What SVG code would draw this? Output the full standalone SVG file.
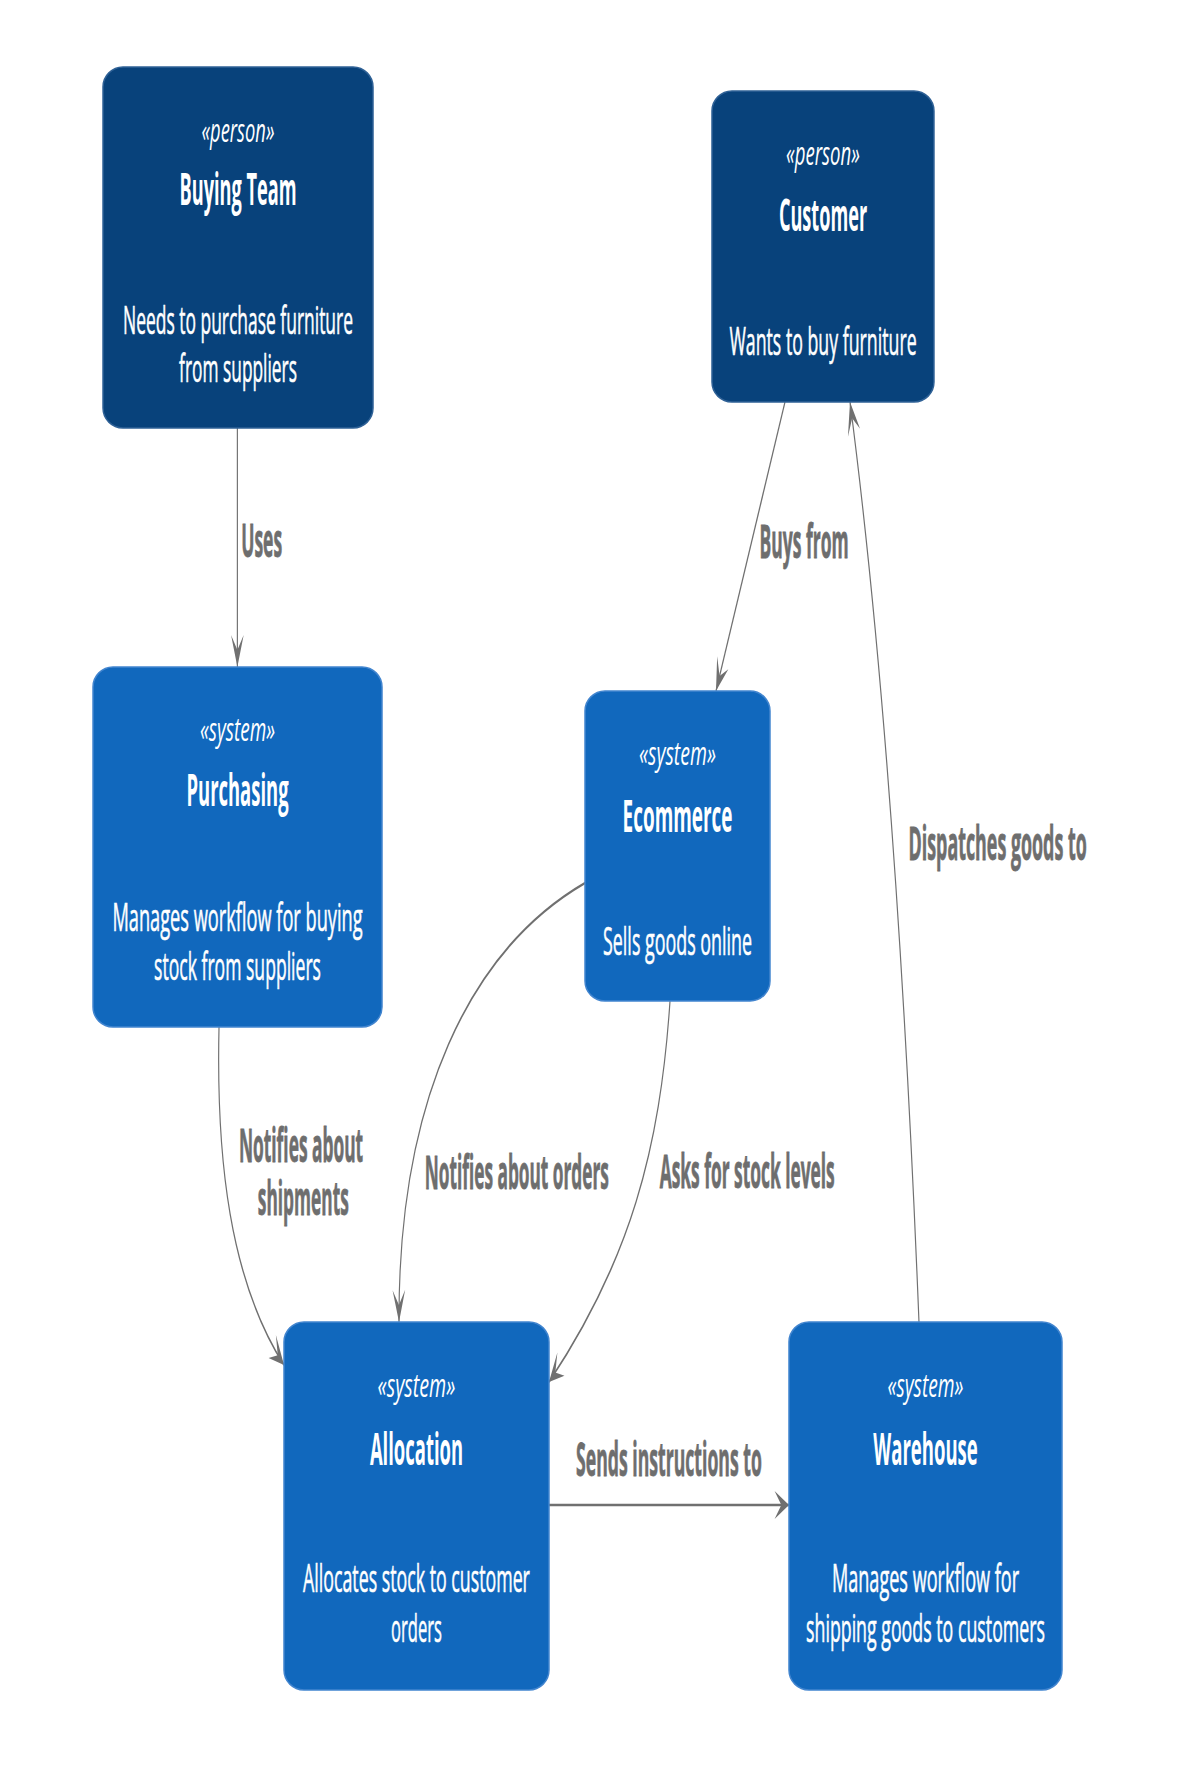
<svg xmlns="http://www.w3.org/2000/svg" width="1192" height="1788" viewBox="0 0 1192 1788">
<defs>
<marker id="arrow" viewBox="-33 -15 34 30" refX="0" refY="0" markerWidth="34" markerHeight="30" markerUnits="userSpaceOnUse" orient="auto">
<path d="M0,0 L-32,-14 L-17,0 L-32,14 Z" fill="#707070"/>
</marker>
</defs>
<style>
.box{stroke-width:1.5;vector-effect:non-scaling-stroke}
.person .box{fill:#08427B;stroke:#2f6196}
.system .box{fill:#1168BD;stroke:#4285cf}
text{font-family:"Open Sans","Liberation Sans",sans-serif}
.st{font-size:33px;font-style:italic;fill:#ffffff;text-anchor:middle}
.nm{font-size:45px;font-weight:bold;fill:#ffffff;text-anchor:middle}
.ds{font-size:39px;fill:#ffffff;text-anchor:middle;stroke:#ffffff;stroke-width:0.6}
.lb{font-size:47px;font-weight:bold;fill:#6e6e6e;stroke:#6e6e6e;stroke-width:0.8}
.edge{fill:none;stroke:#707070;stroke-width:2.6;marker-end:url(#arrow)}
</style>
<rect x="0" y="0" width="1192" height="1788" fill="#ffffff"/>
<g transform="scale(0.45,1)">
<g id="connectors">
<path class="edge" d="M527.5,428 L527.5,667"/>
<path class="edge" d="M1744.4,402 L1591.1,691"/>
<path class="edge" d="M2042.2,1322 Q1992.2,760 1888.9,402"/>
<path class="edge" d="M486.7,1027 C480,1160 511.1,1280 631.1,1365"/>
<path class="edge" d="M1300,883 C1044.4,950 884.4,1100 886.7,1322"/>
<path class="edge" d="M1488.9,1001 C1466.7,1150 1400,1260 1220,1382"/>
<path class="edge" d="M1220,1505 L1753.3,1505"/>
<text class="lb" x="536" y="557" textLength="91" lengthAdjust="spacingAndGlyphs">Uses</text>
<text class="lb" x="1688" y="558" textLength="198" lengthAdjust="spacingAndGlyphs">Buys from</text>
<text class="lb" x="2019" y="860" textLength="396" lengthAdjust="spacingAndGlyphs">Dispatches goods to</text>
<text class="lb"><tspan x="531" y="1162" textLength="276" lengthAdjust="spacingAndGlyphs">Notifies about</tspan><tspan x="573" y="1215" textLength="202" lengthAdjust="spacingAndGlyphs">shipments</tspan></text>
<text class="lb" x="944" y="1189" textLength="409" lengthAdjust="spacingAndGlyphs">Notifies about orders</text>
<text class="lb" x="1466" y="1188" textLength="389" lengthAdjust="spacingAndGlyphs">Asks for stock levels</text>
<text class="lb" x="1280" y="1476" textLength="413" lengthAdjust="spacingAndGlyphs">Sends instructions to</text>
</g>
<g id="buying-team" class="person">
<rect class="box" x="228.9" y="67" width="600" height="361" rx="44.4" ry="20"/>
<text class="st" x="528.9" y="142" textLength="162" lengthAdjust="spacingAndGlyphs">«person»</text>
<text class="nm" x="528.9" y="205" textLength="260" lengthAdjust="spacingAndGlyphs">Buying Team</text>
<text class="ds"><tspan x="528.9" y="334" textLength="511" lengthAdjust="spacingAndGlyphs">Needs to purchase furniture</tspan><tspan x="528.9" y="382" textLength="262" lengthAdjust="spacingAndGlyphs">from suppliers</tspan></text>
</g>
<g id="customer" class="person">
<rect class="box" x="1582.2" y="91" width="493.3" height="311" rx="44.4" ry="20"/>
<text class="st" x="1828.9" y="165" textLength="164" lengthAdjust="spacingAndGlyphs">«person»</text>
<text class="nm" x="1828.9" y="231" textLength="196" lengthAdjust="spacingAndGlyphs">Customer</text>
<text class="ds" x="1828.9" y="355" textLength="416" lengthAdjust="spacingAndGlyphs">Wants to buy furniture</text>
</g>
<g id="purchasing" class="system">
<rect class="box" x="206.7" y="667" width="642.2" height="360" rx="44.4" ry="20"/>
<text class="st" x="527.8" y="741" textLength="167" lengthAdjust="spacingAndGlyphs">«system»</text>
<text class="nm" x="527.8" y="806" textLength="227" lengthAdjust="spacingAndGlyphs">Purchasing</text>
<text class="ds"><tspan x="527.8" y="931" textLength="556" lengthAdjust="spacingAndGlyphs">Manages workflow for buying</tspan><tspan x="527.8" y="980" textLength="371" lengthAdjust="spacingAndGlyphs">stock from suppliers</tspan></text>
</g>
<g id="ecommerce" class="system">
<rect class="box" x="1300" y="691" width="411.1" height="310" rx="44.4" ry="20"/>
<text class="st" x="1505.6" y="765" textLength="171" lengthAdjust="spacingAndGlyphs">«system»</text>
<text class="nm" x="1505.6" y="832" textLength="244" lengthAdjust="spacingAndGlyphs">Ecommerce</text>
<text class="ds" x="1505.6" y="955" textLength="331" lengthAdjust="spacingAndGlyphs">Sells goods online</text>
</g>
<g id="allocation" class="system">
<rect class="box" x="631.1" y="1322" width="588.9" height="368" rx="44.4" ry="20"/>
<text class="st" x="925.5" y="1397" textLength="173" lengthAdjust="spacingAndGlyphs">«system»</text>
<text class="nm" x="925.5" y="1465" textLength="207" lengthAdjust="spacingAndGlyphs">Allocation</text>
<text class="ds"><tspan x="925.5" y="1592" textLength="504" lengthAdjust="spacingAndGlyphs">Allocates stock to customer</tspan><tspan x="925.5" y="1642" textLength="113" lengthAdjust="spacingAndGlyphs">orders</tspan></text>
</g>
<g id="warehouse" class="system">
<rect class="box" x="1753.3" y="1322" width="606.7" height="368" rx="44.4" ry="20"/>
<text class="st" x="2056.7" y="1397" textLength="169" lengthAdjust="spacingAndGlyphs">«system»</text>
<text class="nm" x="2056.7" y="1465" textLength="232" lengthAdjust="spacingAndGlyphs">Warehouse</text>
<text class="ds"><tspan x="2056.7" y="1592" textLength="416" lengthAdjust="spacingAndGlyphs">Manages workflow for</tspan><tspan x="2056.7" y="1642" textLength="531" lengthAdjust="spacingAndGlyphs">shipping goods to customers</tspan></text>
</g>
</g>
</svg>
